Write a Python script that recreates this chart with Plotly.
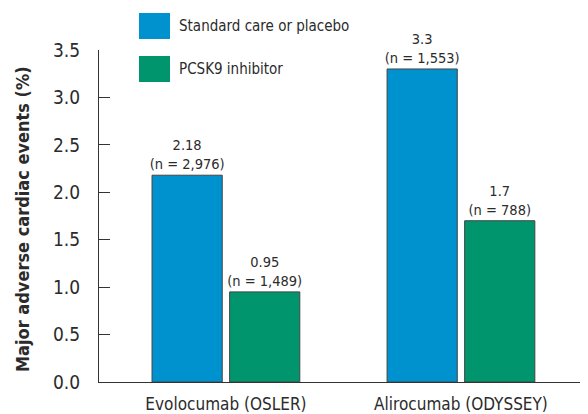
import plotly.graph_objects as go

categories = ["Evolocumab (OSLER)", "Alirocumab (ODYSSEY)"]
series_names = ["Standard care or placebo", "PCSK9 inhibitor"]
standard_values = [2.18, 3.3]
standard_labels = ["2.18", "3.3"]
standard_n = ["2,976", "1,553"]
pcsk9_values = [0.95, 1.7]
pcsk9_labels = ["0.95", "1.7"]
pcsk9_n = ["1,489", "788"]
y_ticks = [0.0, 0.5, 1.0, 1.5, 2.0, 2.5, 3.0, 3.5]
y_ticktext = ["0.0", "0.5", "1.0", "1.5", "2.0", "2.5", "3.0", "3.5"]
y_title = "Major adverse cardiac events (%)"

FONT = "Liberation Sans Narrow, DejaVu Sans Condensed, Arial Narrow, sans-serif"
TXT = "#2b2b2b"
BLUE = "#0091cf"
GREEN = "#00956c"

def labels(vals, ns):
    return [f"{v}<br>(n = {n})" for v, n in zip(vals, ns)]

fig = go.Figure()
for name, vals, lab, ns, col in [
    (series_names[0], standard_values, standard_labels, standard_n, BLUE),
    (series_names[1], pcsk9_values, pcsk9_labels, pcsk9_n, GREEN),
]:
    fig.add_trace(go.Bar(
        x=categories, y=vals, name=name,
        marker=dict(color=col, line=dict(color="#444444", width=1)),
        text=labels(lab, ns), textposition="outside",
        textfont=dict(family=FONT, size=14.5, color=TXT),
        constraintext="none", cliponaxis=False,
        showlegend=False,
    ))

# page offset: the html body has an 8px margin
OFF = 8
PL, PR, PT, PB = 99, 586, 50, 382  # plot area in page pixels
PW, PH = PR - PL, PB - PT

# legend drawn as large swatches (paper coords relative to plot area)
for i, (name, col) in enumerate(zip(series_names, [BLUE, GREEN])):
    top = 13 + i * 43  # top pixel of swatch (page)
    fig.add_shape(type="rect", xref="paper", yref="paper",
                  x0=(139 - PL) / PW, x1=(170 - PL) / PW,
                  y0=(PB - (top + 26)) / PH, y1=(PB - top) / PH,
                  fillcolor=col, line=dict(width=0), layer="above")
    fig.add_annotation(xref="paper", yref="paper", x=(177 - PL) / PW,
                       y=(PB - (top + 13)) / PH, text=name, showarrow=False,
                       xanchor="left", yanchor="middle",
                       font=dict(family=FONT, size=15, color=TXT))

# y-axis title as rotated annotation
fig.add_annotation(xref="paper", yref="paper", x=(22 - PL) / PW,
                   y=(PB - 219) / PH, text=f"<b>{y_title}</b>", showarrow=False,
                   textangle=-90, xanchor="center", yanchor="middle",
                   font=dict(family=FONT, size=18, color=TXT))

# small end tick on the right of the x axis
fig.add_shape(type="line", xref="paper", yref="paper", x0=1, x1=1,
              y0=0, y1=6 / PH, line=dict(color="#333333", width=1.2))

fig.update_layout(
    width=588, height=414,
    margin=dict(l=PL - OFF, r=588 - (PR - OFF), t=PT - OFF, b=414 - (PB - OFF),
                autoexpand=False),
    paper_bgcolor="white", plot_bgcolor="white",
    barmode="group", bargap=0.34, bargroupgap=0.095,
    font=dict(family=FONT, color=TXT),
    xaxis=dict(
        type="category", range=[-0.54, 1.532], automargin=False,
        showline=True, linecolor="#333333", linewidth=1.2,
        ticks="", showgrid=False, ticklabelstandoff=6,
        tickfont=dict(family=FONT, size=17, color=TXT),
    ),
    yaxis=dict(
        range=[0, 3.5], tickvals=y_ticks, ticktext=y_ticktext, automargin=False,
        showline=True, linecolor="#333333", linewidth=1.2,
        ticks="inside", ticklen=11, tickcolor="#333333", tickwidth=1.2,
        showgrid=False, zeroline=False, ticklabelstandoff=14,
        tickfont=dict(family=FONT, size=19, color=TXT),
    ),
)

fig.write_html("out.html")
